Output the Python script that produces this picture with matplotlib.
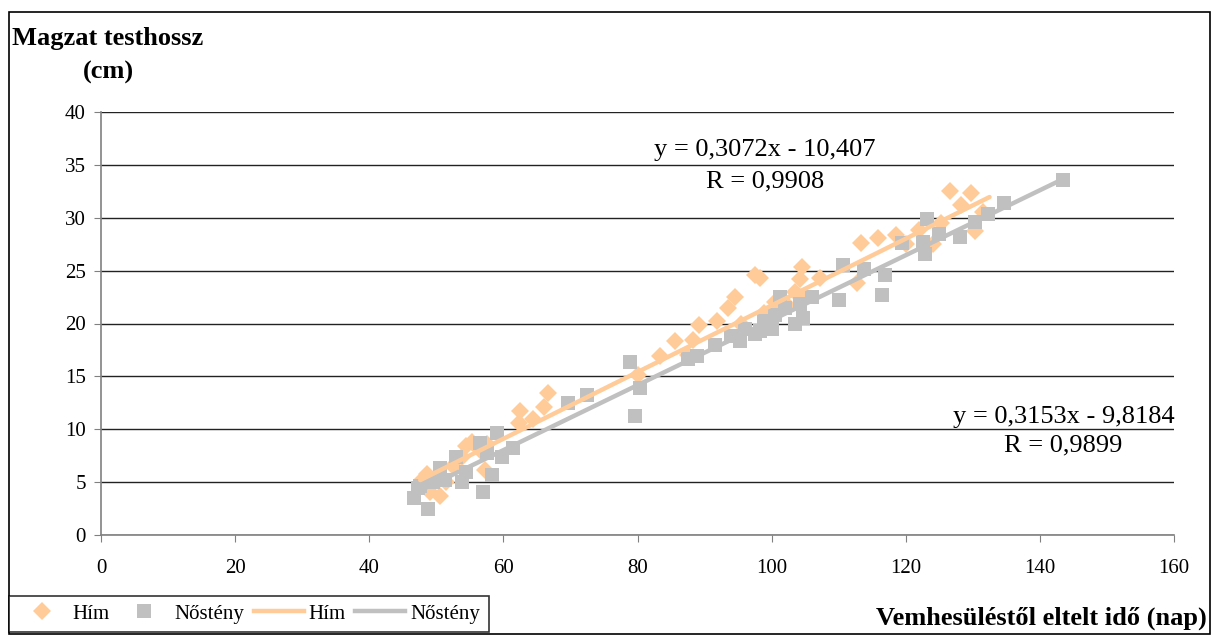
import matplotlib
matplotlib.use("Agg")
import matplotlib.pyplot as plt
import numpy as np
from matplotlib.patches import Rectangle
from matplotlib.lines import Line2D

plt.rcParams['font.family'] = ['Liberation Serif', 'DejaVu Serif']

# Hím (male) measurements: age (days) vs body length (cm)
him_x = [48.0, 48.6, 49.1, 50.5, 51.5, 52.5, 53.8, 54.5, 55.3, 56.5, 57.3, 57.6,
         62.3, 62.5, 64.4, 66.0, 66.6, 80.1, 83.4, 85.6, 87.5, 88.3, 89.2, 91.8,
         93.5, 94.5, 95.5, 97.5, 98.2, 98.8, 100.5, 102.5, 103.5, 104.2, 104.5,
         105.0, 107.2, 112.8, 113.4, 115.9, 118.6, 120.0, 122.0, 124.0, 125.2,
         126.6, 128.3, 129.8, 130.3, 131.5]
him_y = [5.3, 5.8, 4.1, 3.7, 5.0, 6.5, 7.4, 8.4, 8.8, 8.0, 6.1, 8.6,
         10.6, 11.7, 11.0, 12.1, 13.4, 15.1, 16.9, 18.3, 17.0, 18.4, 19.9, 20.2,
         21.5, 22.5, 20.0, 24.6, 24.3, 21.0, 22.0, 21.7, 23.0, 24.2, 25.3,
         22.5, 24.3, 23.8, 27.6, 28.1, 28.4, 27.5, 28.8, 27.5, 29.5,
         32.5, 31.2, 32.3, 28.7, 30.5]

# Nőstény (female)
nos_x = [46.6, 47.3, 47.6, 48.8, 49.5, 50.5, 51.3, 53.0, 53.8, 54.5, 56.5, 57.0,
         57.5, 58.3, 59.0, 59.8, 61.5, 69.7, 72.4, 78.9, 79.7, 80.4, 87.5, 88.8,
         91.5, 94.0, 95.3, 96.0, 97.5, 98.2, 98.8, 99.5, 100.0, 100.5, 101.2,
         102.0, 103.5, 104.2, 104.7, 106.0, 110.0, 110.7, 113.7, 116.4, 116.9,
         119.4, 122.6, 122.9, 123.1, 124.9, 128.1, 130.3, 132.3, 134.6, 143.5]
nos_y = [3.5, 4.4, 4.6, 2.5, 5.0, 6.3, 5.2, 7.4, 5.0, 6.0, 8.7, 4.1,
         7.8, 5.7, 9.6, 7.4, 8.2, 12.5, 13.2, 16.4, 11.3, 13.9, 16.6, 16.9,
         18.0, 18.8, 18.3, 19.5, 19.0, 19.3, 20.2, 19.8, 19.5, 20.8, 22.5,
         21.5, 20.0, 21.8, 20.5, 22.5, 22.2, 25.5, 25.2, 22.7, 24.6,
         27.6, 27.7, 26.6, 29.9, 28.5, 28.2, 29.6, 30.4, 31.4, 33.6]

# trendlines (slope, intercept, x range) as drawn in the chart
him_fit = (0.3153, -9.8184, 47.6, 132.5)
nos_fit = (0.3072, -10.407, 46.6, 143.5)

eq_top = "y = 0,3072x - 10,407\nR = 0,9908"
eq_right = "y = 0,3153x - 9,8184\nR = 0,9899"

c_him = '#FFCC99'
c_nos = '#C0C0C0'

fig = plt.figure(figsize=(12.12, 6.35), dpi=100)
ax = fig.add_axes([101 / 1212, 1 - 535 / 635, (1174 - 101) / 1212, (535 - 112) / 635])

ax.plot(him_x, him_y, 'D', color=c_him, markersize=9.5, markeredgewidth=0, zorder=3)
ax.plot(nos_x, nos_y, 's', color=c_nos, markersize=9.5, markeredgewidth=0, zorder=3)

for fit, col in [(him_fit, c_him), (nos_fit, c_nos)]:
    xs = np.array([fit[2], fit[3]])
    ax.plot(xs, fit[0] * xs + fit[1], '-', color=col, linewidth=3.2, zorder=4,
            solid_capstyle='round')

ax.set_xlim(0, 160)
ax.set_ylim(0, 40)
ax.set_xticks(np.arange(0, 161, 20))
ax.set_yticks(np.arange(0, 41, 5))
ax.yaxis.grid(True, color='#222222', linewidth=1)
ax.set_axisbelow(True)
for s in ['top', 'right']:
    ax.spines[s].set_visible(False)
for s in ['left', 'bottom']:
    ax.spines[s].set_color('#808080')
    ax.spines[s].set_linewidth(1.2)
ax.tick_params(direction='out', length=5, color='#808080', labelsize=15)
ax.tick_params(axis='y', pad=6)
ax.tick_params(axis='x', pad=12)

ax.text(99.0, 34.9, eq_top, ha='center', va='center', fontsize=19,
        multialignment='center', linespacing=1.55)
ax.text(143.5, 9.8, eq_right, ha='center', va='center', fontsize=19,
        multialignment='center', linespacing=1.4)

fig.text(12 / 1212, 1 - 38 / 635, "Magzat testhossz", fontsize=19, fontweight='bold',
         ha='left', va='center')
fig.text(108 / 1212, 1 - 72 / 635, "(cm)", fontsize=19, fontweight='bold',
         ha='center', va='center')
fig.text(1207 / 1212, 1 - 618 / 635, "Vemhesüléstől eltelt idő (nap)", fontsize=19,
         fontweight='bold', ha='right', va='center')

# outer chart border
fig.patches.append(Rectangle((9 / 1212, 1 / 635), 1201 / 1212, 622 / 635,
                             transform=fig.transFigure, fill=False,
                             edgecolor='black', linewidth=1.2))

handles = [
    Line2D([], [], marker='D', color=c_him, linestyle='none', markersize=9.5, markeredgewidth=0),
    Line2D([], [], marker='s', color=c_nos, linestyle='none', markersize=9.5, markeredgewidth=0),
    Line2D([], [], color=c_him, linewidth=3.2),
    Line2D([], [], color=c_nos, linewidth=3.2),
]
labels = ['Hím', 'Nőstény', 'Hím', 'Nőstény']
leg = fig.legend(handles, labels, loc='lower left', bbox_to_anchor=(9 / 1212, 3 / 635),
                 ncol=4, frameon=True, fancybox=False, fontsize=15,
                 handlelength=2.4, handletextpad=0.25, columnspacing=0.45,
                 borderpad=0.4, borderaxespad=0)
leg.get_frame().set_edgecolor('black')
leg.get_frame().set_linewidth(1.2)

fig.savefig('out.png', dpi=100)
